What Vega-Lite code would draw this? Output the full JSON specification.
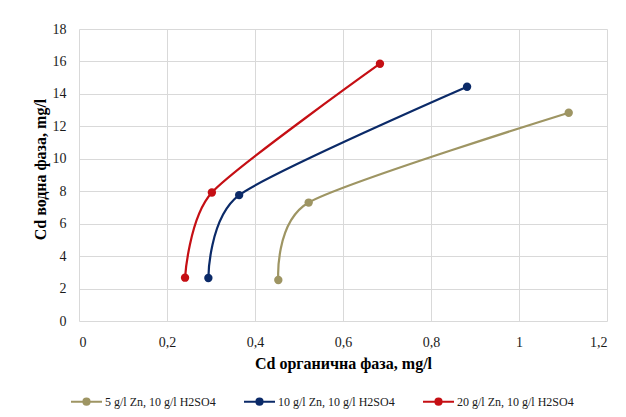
{
  "$schema": "https://vega.github.io/schema/vega-lite/v6.json",
  "width": 528,
  "height": 292,
  "autosize": {"type": "none"},
  "padding": {"left": 79, "top": 29, "right": 19, "bottom": 96},
  "background": "white",
  "config": {
    "font": "Liberation Serif",
    "view": {"stroke": null},
    "axis": {
      "domain": false,
      "ticks": false,
      "gridColor": "#D9D9D9",
      "gridWidth": 1,
      "labelFont": "Liberation Serif",
      "labelFontSize": 14,
      "labelColor": "#1a1a1a",
      "titleFont": "Liberation Serif",
      "titleFontSize": 16,
      "titleFontWeight": "bold",
      "titleColor": "#000000"
    }
  },
  "data": {
    "values": [
      {"series": "5 g/l Zn, 10 g/l H2SO4", "org": 0.453, "aq": 2.53, "i": 1},
      {"series": "5 g/l Zn, 10 g/l H2SO4", "org": 0.522, "aq": 7.3, "i": 2},
      {"series": "5 g/l Zn, 10 g/l H2SO4", "org": 1.113, "aq": 12.84, "i": 3},
      {"series": "10 g/l Zn, 10 g/l H2SO4", "org": 0.294, "aq": 2.65, "i": 1},
      {"series": "10 g/l Zn, 10 g/l H2SO4", "org": 0.364, "aq": 7.76, "i": 2},
      {"series": "10 g/l Zn, 10 g/l H2SO4", "org": 0.882, "aq": 14.44, "i": 3},
      {"series": "20 g/l Zn, 10 g/l H2SO4", "org": 0.241, "aq": 2.67, "i": 1},
      {"series": "20 g/l Zn, 10 g/l H2SO4", "org": 0.302, "aq": 7.92, "i": 2},
      {"series": "20 g/l Zn, 10 g/l H2SO4", "org": 0.684, "aq": 15.86, "i": 3}
    ]
  },
  "encoding": {
    "x": {
      "field": "org",
      "type": "quantitative",
      "scale": {"domain": [0, 1.2], "nice": false, "zero": true},
      "axis": {
        "values": [0, 0.2, 0.4, 0.6, 0.8, 1, 1.2],
        "labelExpr": "replace(format(datum.value, '~g'), '.', ',')",
        "labelPadding": 14,
        "title": "Cd органична фаза, mg/l",
        "titleY": 47,
        "titleBaseline": "alphabetic"
      }
    },
    "y": {
      "field": "aq",
      "type": "quantitative",
      "scale": {"domain": [0, 18], "nice": false},
      "axis": {
        "values": [0, 2, 4, 6, 8, 10, 12, 14, 16, 18],
        "labelPadding": 13,
        "title": "Cd водна фаза, mg/l",
        "titleX": -39,
        "titleY": 140,
        "titleAngle": -90,
        "titleBaseline": "middle",
        "titleAlign": "center"
      }
    },
    "color": {
      "field": "series",
      "type": "nominal",
      "sort": ["5 g/l Zn, 10 g/l H2SO4", "10 g/l Zn, 10 g/l H2SO4", "20 g/l Zn, 10 g/l H2SO4"],
      "scale": {
        "domain": ["5 g/l Zn, 10 g/l H2SO4", "10 g/l Zn, 10 g/l H2SO4", "20 g/l Zn, 10 g/l H2SO4"],
        "range": ["#9E9563", "#0B2A68", "#C50F14"]
      },
      "legend": {
        "title": null,
        "orient": "none",
        "direction": "horizontal",
        "legendX": -9,
        "legendY": 356,
        "columns": 3,
        "columnPadding": 24,
        "labelFont": "Liberation Serif",
        "labelFontSize": 12,
        "labelColor": "#1a1a1a",
        "labelOffset": 2,
        "symbolType": "M -1 0 L 1 0 M -0.2 0 A 0.2 0.2 0 1 1 0.2 0 A 0.2 0.2 0 1 1 -0.2 0 Z",
        "symbolSize": 961,
        "symbolStrokeWidth": 2,
        "encode": {
          "symbols": {"update": {"fill": {"scale": "color", "field": "value"}}}
        }
      }
    }
  },
  "layer": [
    {
      "mark": {"type": "line", "interpolate": "cardinal", "tension": 0.3, "strokeWidth": 2.2},
      "encoding": {"order": {"field": "i", "type": "quantitative"}}
    },
    {
      "mark": {"type": "circle", "size": 70, "opacity": 1},
      "encoding": {}
    }
  ]
}
